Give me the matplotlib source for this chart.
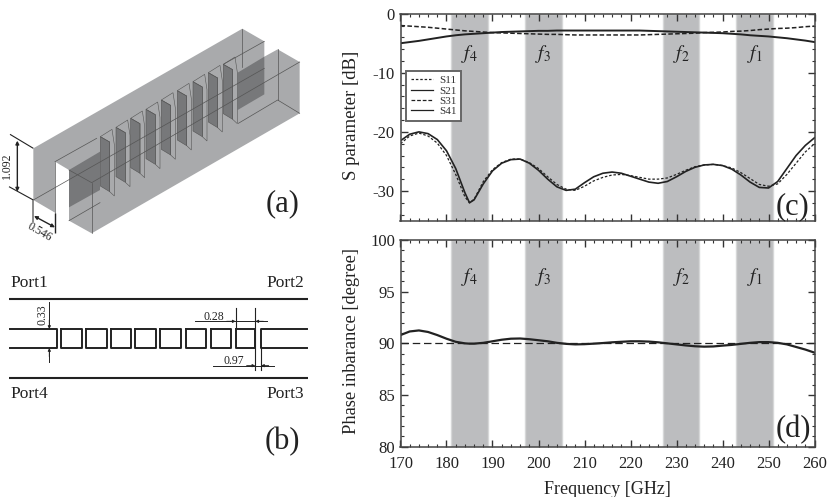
import numpy as np
import matplotlib
matplotlib.use('Agg')
import matplotlib.pyplot as plt
from matplotlib.patches import Polygon

plt.rcParams['font.family'] = ['Liberation Serif', 'DejaVu Serif']
plt.rcParams['mathtext.fontset'] = 'stix'
plt.rcParams['axes.unicode_minus'] = False

freq = [170, 172, 174, 176, 178, 180, 182, 184, 185, 186, 188, 190, 192, 194, 196, 198,
        200, 202, 204, 206, 208, 210, 212, 214, 216, 218, 220, 222, 224, 226, 228, 230,
        232, 234, 236, 238, 240, 242, 244, 246, 248, 250, 252, 254, 256, 258, 260]
s11 = [-22, -20.7, -20.2, -20.7, -21.9, -24, -27.2, -31, -32, -31.4, -28.4, -26.4, -25.2, -24.6, -24.6, -25.2,
       -26.2, -27.6, -28.9, -29.7, -29.9, -29.2, -28.3, -27.7, -27.3, -27.2, -27.4, -27.7, -28, -28, -27.8, -27.2,
       -26.5, -25.9, -25.6, -25.5, -25.7, -26.1, -26.9, -27.9, -28.9, -29.2, -28.8, -27.2, -25.3, -23.4, -22]
s41 = [-21.5, -20.4, -20, -20.3, -21.3, -23.2, -26.2, -30.3, -32, -31.5, -28.8, -26.6, -25.3, -24.7, -24.6, -25.3,
       -26.5, -28, -29.3, -29.9, -29.7, -28.6, -27.6, -27, -26.8, -27, -27.5, -28, -28.5, -28.7, -28.4, -27.6,
       -26.7, -26, -25.6, -25.5, -25.7, -26.3, -27.3, -28.5, -29.4, -29.5, -28.4, -26.2, -24, -22.3, -21]
s21 = [-5.0, -4.8, -4.6, -4.35, -4.1, -3.85, -3.65, -3.5, -3.45, -3.4, -3.3, -3.2, -3.1, -3.05, -3.0, -2.95,
       -2.9, -2.9, -2.85, -2.85, -2.85, -2.85, -2.85, -2.85, -2.85, -2.85, -2.85, -2.85, -2.9, -2.95, -3.0, -3.05,
       -3.1, -3.15, -3.2, -3.25, -3.3, -3.4, -3.5, -3.65, -3.75, -3.85, -4.0, -4.15, -4.35, -4.55, -4.8]
s31 = [-2.0, -2.1, -2.2, -2.3, -2.45, -2.6, -2.75, -2.9, -2.95, -3.0, -3.1, -3.2, -3.25, -3.3, -3.35, -3.4,
       -3.45, -3.5, -3.5, -3.55, -3.6, -3.6, -3.6, -3.6, -3.6, -3.6, -3.6, -3.6, -3.55, -3.5, -3.45, -3.4,
       -3.35, -3.3, -3.2, -3.15, -3.1, -3.0, -2.95, -2.85, -2.7, -2.6, -2.5, -2.45, -2.35, -2.2, -2.1]
phase = [90.8, 91.15, 91.25, 91.1, 90.8, 90.45, 90.15, 90.0, 89.97, 89.97, 90.05, 90.2, 90.35, 90.45, 90.47, 90.4,
         90.3, 90.2, 90.05, 89.95, 89.9, 89.92, 89.97, 90.03, 90.1, 90.15, 90.2, 90.2, 90.17, 90.1, 90.0, 89.9,
         89.8, 89.72, 89.68, 89.7, 89.78, 89.85, 89.95, 90.05, 90.12, 90.12, 90.05, 89.9, 89.65, 89.4, 89.1]

bands = [(181, 189), (197, 205), (227, 235), (243, 251)]
band_names = [r'$f_4$', r'$f_3$', r'$f_2$', r'$f_1$']

W, H = 830, 497
fig = plt.figure(figsize=(W / 100, H / 100), dpi=100)

# overlay in pixels of the reference, for the two drawings on the left
bg = fig.add_axes([0, 0, 1, 1])
bg.set_xlim(0, W)
bg.set_ylim(H, 0)
bg.axis('off')


def axes_px(left, top, right, bottom):
    return fig.add_axes([left / W, 1 - bottom / H, (right - left) / W, (bottom - top) / H])


def style_axes(ax):
    ax.set_xlim(170, 260)
    ax.set_xticks(np.arange(170, 261, 10))
    ax.set_xticks(np.arange(170, 261, 2), minor=True)
    ax.tick_params(which='major', direction='in', length=5, width=1.0, color='#333333',
                   labelsize=12, top=True, right=True, pad=4, labelcolor='#222222')
    ax.tick_params(axis='x', which='major', pad=7)
    ax.tick_params(which='minor', direction='in', length=2.5, width=0.8, color='#333333',
                   top=True, right=True)
    for s in ax.spines.values():
        s.set_linewidth(1.1)
        s.set_color('#444444')
    for (lo, hi), name in zip(bands, band_names):
        ax.axvspan(lo, hi, facecolor='#bcbdbf', edgecolor='#d6d7d8', lw=1, zorder=0)


# panel (c)
axc = axes_px(400.5, 13.7, 814.5, 220.5)
style_axes(axc)
axc.set_ylim(-35, 0)
axc.set_yticks([-30, -20, -10, 0])
axc.set_yticks(np.arange(-34, 1, 2), minor=True)
axc.tick_params(labelbottom=False)
l1, = axc.plot(freq, s11, color='#222222', lw=0.9, ls=(0, (2, 1.5)))
l2, = axc.plot(freq, s21, color='#222222', lw=1.4)
l3, = axc.plot(freq, s31, color='#222222', lw=1.1, ls=(0, (3, 1.5)))
l4, = axc.plot(freq, s41, color='#222222', lw=1.2)
axc.set_ylabel('S parameter [dB]', fontsize=13.5, color='#222222')
for (lo, hi), name in zip(bands, band_names):
    axc.text((lo + hi) / 2, -6.8, name, fontsize=14, ha='center', va='center', color='#222222')
axc.text(251.5, -32.6, '(c)', fontsize=22, ha='left', va='center', color='#222222')
leg = axc.legend([l1, l2, l3, l4], ['S11', 'S21', 'S31', 'S41'], loc='upper left',
                 bbox_to_anchor=(0.0135, 0.725), fontsize=8, fancybox=False, framealpha=1,
                 edgecolor='#666666', labelspacing=0.05, borderpad=0.45, handlelength=2.0,
                 handletextpad=0.5, borderaxespad=0)
leg.get_frame().set_linewidth(1.4)
for t in leg.get_texts():
    t.set_color('#333333')
for h in leg.get_lines():
    h.set_linewidth(0.9)

# panel (d)
axd = axes_px(400.5, 240, 814.5, 446.7)
style_axes(axd)
axd.set_ylim(80, 100)
axd.set_yticks([80, 85, 90, 95, 100])
axd.set_yticks(np.arange(80, 101, 1), minor=True)
axd.axhline(90, color='#222222', lw=0.9, ls=(0, (6, 3)))
axd.plot(freq, phase, color='#222222', lw=1.6)
axd.set_ylabel('Phase inbarance [degree]', fontsize=13.3, color='#222222')
axd.set_xlabel('Frequency [GHz]', fontsize=13, color='#222222', labelpad=6)
for (lo, hi), name in zip(bands, band_names):
    axd.text((lo + hi) / 2, 96.4, name, fontsize=14, ha='center', va='center', color='#222222')
axd.text(251.5, 81.7, '(d)', fontsize=22, ha='left', va='center', color='#222222')

for ax in (axc, axd):
    ax.yaxis.set_label_coords(-0.097, 0.51)

# panel (a): outlines at 3x scale
back_block = [(100, 445), (727, 86), (793, 124), (793, 283), (207, 620), (207, 510), (165, 485), (165, 638), (100, 600)]
front_block = [(207, 510), (793, 170), (833, 148), (899, 186), (899, 340), (275, 700), (207, 662)]
near_wall = [(207, 510), (300, 455), (300, 570), (207, 622)]
far_wall = [(713, 218), (793, 170), (793, 283), (713, 330)]
pillar_x = [301, 348, 392, 438, 484, 532, 579, 625, 670]
pillar_y = [410, 382, 355, 328, 300, 272, 245, 218, 193]
thin_lines = [
    [(165, 485), (290, 415)], [(100, 600), (793, 205)], [(165, 485), (165, 638)],
    [(207, 510), (275, 548), (899, 186)], [(275, 548), (275, 700)], [(207, 662), (300, 608)],
    [(715, 370), (833, 300), (899, 340)],
    [(727, 86), (727, 200)], [(670, 193), (793, 124)], [(833, 148), (833, 300)],
]


def poly3(pts, **kw):
    bg.add_patch(Polygon(np.array(pts) / 3, closed=True, **kw))


poly3(back_block, facecolor='#a9aaac', edgecolor='none')
poly3(front_block, facecolor='#a9aaac', edgecolor='none')
poly3(near_wall, facecolor='#77787a', edgecolor='none')
poly3(far_wall, facecolor='#77787a', edgecolor='none')
for x, y in zip(pillar_x, pillar_y):
    # slab plus the thin outline of the slot around it
    poly3([(x, y), (x + 28, y + 16), (x + 28, y + 165), (x, y + 148)], facecolor='#77787a',
          edgecolor='#555555', lw=0.4)
    poly3([(x, y), (x + 35, y - 22), (x + 42, y + 24), (x + 42, y + 178), (x + 28, y + 165), (x + 28, y + 16)],
          facecolor='none', edgecolor='#555555', lw=0.4)
for line in thin_lines:
    p = np.array(line) / 3
    bg.plot(p[:, 0], p[:, 1], color='#555555', lw=0.5)

arrow = dict(arrowstyle='<|-|>', color='#222222', lw=1.0, mutation_scale=5, shrinkA=0, shrinkB=0)
thin_head = dict(arrowstyle='-|>', color='#222222', lw=0.7, mutation_scale=4, shrinkA=0, shrinkB=0)


def line3(x0, y0, x1, y1, color='#222222', lw=0.8):
    bg.plot([x0 / 3, x1 / 3], [y0 / 3, y1 / 3], color=color, lw=lw, solid_capstyle='butt')


line3(30, 403, 100, 445)
line3(27, 560, 100, 600)
line3(100, 600, 100, 665, color='#777777', lw=1.2)
line3(165, 638, 165, 700, lw=1.0)
bg.annotate('', xy=(52 / 3, 422 / 3), xytext=(52 / 3, 575 / 3), arrowprops=arrow)
bg.annotate('', xy=(102 / 3, 648 / 3), xytext=(165 / 3, 682 / 3), arrowprops=arrow)
bg.text(20 / 3, 497 / 3, '1.092', rotation=90, fontsize=8.5, ha='center', va='center', color='#222222')
bg.text(120 / 3, 697 / 3, '0.546', rotation=-30, fontsize=8.5, ha='center', va='center', color='#222222')
bg.text(848 / 3, 610 / 3, '(a)', fontsize=22, ha='center', va='center', color='#222222')

# panel (b): 3x scale again, y measured from 260
square_left = [183, 257, 332, 406, 481, 557, 632, 707]
square_right = [245, 320, 393, 467, 543, 618, 692, 766]
rail_y = [118, 353]
port_names = ['Port1', 'Port2', 'Port4', 'Port3']
port_x = [30, 800, 30, 800]
port_y = [70, 70, 402, 402]


def xb(v):
    return v / 3


def yb(v):
    return 260 + v / 3


for ry in rail_y:
    bg.plot([xb(28), xb(923)], [yb(ry), yb(ry)], color='#222222', lw=1.5, solid_capstyle='butt')
for lo, hi in zip(square_left, square_right):
    bg.plot([xb(lo), xb(hi), xb(hi), xb(lo), xb(lo)], [yb(207), yb(207), yb(264), yb(264), yb(207)],
            color='#222222', lw=1.4)
bg.plot([xb(30), xb(170), xb(170), xb(30)], [yb(207), yb(207), yb(264), yb(264)], color='#222222', lw=1.4)
bg.plot([xb(921), xb(783), xb(783), xb(921)], [yb(207), yb(207), yb(264), yb(264)], color='#222222', lw=1.4)

for name, x, y in zip(port_names, port_x, port_y):
    bg.text(xb(x), yb(y), name, fontsize=12.5, ha='left', va='center', color='#222222')
bg.text(xb(848), yb(545), '(b)', fontsize=22, ha='center', va='center', color='#222222')

bg.plot([xb(148), xb(148)], [yb(125), yb(207)], color='#222222', lw=0.7)
bg.plot([xb(148), xb(148)], [yb(264), yb(305)], color='#222222', lw=0.7)
bg.annotate('', xy=(xb(148), yb(207)), xytext=(xb(148), yb(180)), arrowprops=thin_head)
bg.annotate('', xy=(xb(148), yb(264)), xytext=(xb(148), yb(290)), arrowprops=thin_head)
bg.text(xb(127), yb(165), '0.33', rotation=90, fontsize=8.5, ha='center', va='center', color='#222222')

bg.plot([xb(707), xb(707)], [yb(145), yb(207)], color='#222222', lw=0.8)
bg.plot([xb(766), xb(766)], [yb(145), yb(330)], color='#222222', lw=0.8)
bg.plot([xb(783), xb(783)], [yb(264), yb(330)], color='#222222', lw=0.8)
bg.plot([xb(585), xb(800)], [yb(184), yb(184)], color='#222222', lw=0.7)
bg.plot([xb(640), xb(823)], [yb(317), yb(317)], color='#222222', lw=0.7)
bg.annotate('', xy=(xb(707), yb(184)), xytext=(xb(680), yb(184)), arrowprops=thin_head)
bg.annotate('', xy=(xb(766), yb(184)), xytext=(xb(790), yb(184)), arrowprops=thin_head)
bg.annotate('', xy=(xb(766), yb(317)), xytext=(xb(740), yb(317)), arrowprops=thin_head)
bg.annotate('', xy=(xb(783), yb(317)), xytext=(xb(806), yb(317)), arrowprops=thin_head)
bg.text(xb(642), yb(170), '0.28', fontsize=8.5, ha='center', va='center', color='#222222')
bg.text(xb(702), yb(303), '0.97', fontsize=8.5, ha='center', va='center', color='#222222')

fig.savefig('out.png', dpi=100)
